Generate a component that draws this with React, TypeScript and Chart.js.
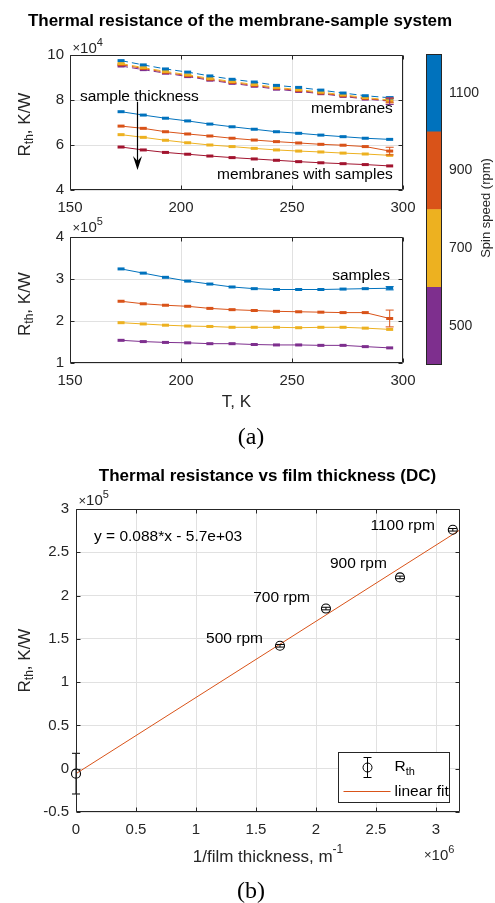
import React, { useEffect, useRef } from "react";
import { Chart, registerables } from "chart.js";

Chart.register(...registerables);

const W = 495;
const H = 903;
const SANS = "'Liberation Sans', Arial, Helvetica, sans-serif";
const SERIF = "'Liberation Serif', 'Times New Roman', serif";
const INK = "#262626";
const GRID = "#e1e1e1";
const BLUE = "#0072BD";
const ORANGE = "#D95319";
const YELLOW = "#EDB120";
const PURPLE = "#7E2F8E";
const CRIMSON = "#A2142F";

// ---------- (a) temperature sweeps, K and K/W ----------
const temperatureK = [173, 183, 193, 203, 213, 223, 233, 243, 253, 263, 273, 283, 294];
const temperatureTicks = [150, 200, 250, 300];

const membrane1100 = [97500, 95600, 93800, 92400, 90700, 89200, 88000, 86500, 85600, 84400, 83100, 81900, 81000];
const membrane700 = [96200, 94400, 92700, 91200, 89600, 88200, 86900, 85600, 84600, 83500, 82300, 81100, 80000];
const membrane900 = [95700, 94000, 92300, 90800, 89200, 87800, 86500, 85200, 84200, 83100, 81900, 80700, 79700];
const membrane500 = [95100, 93500, 91900, 90400, 88800, 87400, 86100, 84800, 83800, 82800, 81600, 80400, 79500];
const membraneEndErr = [400, 1000, 1000, 1500]; // 1100, 900, 700, 500 rpm
const membraneTicks = [40000, 60000, 80000, 100000];

const withSample1100 = [74800, 73300, 71900, 70700, 69300, 68100, 67000, 65900, 65200, 64400, 63700, 63000, 62500];
const withSample900 = [68400, 67400, 65900, 64900, 64000, 63000, 62200, 61500, 60900, 60300, 59900, 59300, 57300];
const withSample700 = [64600, 63400, 62100, 61000, 60000, 59300, 58500, 57800, 57300, 56900, 56400, 56000, 55400];
const withSample500 = [59100, 57800, 56700, 55900, 55100, 54400, 53800, 53200, 52600, 52100, 51700, 51300, 50700];
const withSampleEndErr = [0, 1700, 0, 0];

const sample1100 = [324000, 314000, 304000, 295000, 288000, 281000, 277000, 275000, 275000, 275000, 276000, 277000, 278000];
const sample900 = [247000, 241000, 237500, 235000, 230000, 227000, 225000, 223000, 222000, 221000, 220000, 220000, 206000];
const sample700 = [196000, 193000, 190000, 188000, 187000, 185000, 185000, 185000, 184000, 185000, 185000, 183000, 180000];
const sample500 = [154000, 151000, 149000, 148000, 146000, 146000, 144000, 143000, 143000, 142000, 142000, 139000, 136000];
const sampleEndErr = [4000, 20000, 0, 0];
const sampleTicks = [100000, 200000, 300000, 400000];

// colour bar
const spinSpeedsRpm = [500, 700, 900, 1100];
const colorbarEdges = [400, 600, 800, 1000, 1200];
const spinColors = [PURPLE, YELLOW, ORANGE, BLUE];

// ---------- (b) DC thermal resistance vs 1/thickness ----------
const inverseThickness = [0, 1.70e6, 2.083e6, 2.70e6, 3.14e6];
const rthDC = [-5700, 142000, 185000, 221000, 276000];
const rthErr = [23500, 1500, 1500, 1500, 1500];
const rpmLabels = ["", "500 rpm", "700 rpm", "900 rpm", "1100 rpm"];
const rpmLabelX = [0, 1.558e6, 1.95e6, 2.59e6, 2.99e6];
const rpmLabelY = [0, 150000, 197500, 237000, 281000];
const fitX = [0, 3.2e6];
const fitY = [-5700, 275900];
const inverseThicknessTicks = [0, 0.5e6, 1e6, 1.5e6, 2e6, 2.5e6, 3e6];
const rthTicks = [-50000, 0, 50000, 100000, 150000, 200000, 250000, 300000];

// ---------- drawing helpers ----------
type Run = { t: string; size: number; bold?: boolean; dy?: number; family?: string };

function runFont(r: Run) {
  return `${r.bold ? "bold " : ""}${r.size}px ${r.family || SANS}`;
}

function drawRuns(ctx: CanvasRenderingContext2D, runs: Run[], x: number, y: number, align: string, color: string) {
  ctx.save();
  ctx.fillStyle = color;
  ctx.textAlign = "left";
  ctx.textBaseline = "middle";
  const widths = runs.map((r) => {
    ctx.font = runFont(r);
    return ctx.measureText(r.t).width;
  });
  const total = widths.reduce((a, b) => a + b, 0);
  let cx = align === "center" ? x - total / 2 : align === "right" ? x - total : x;
  runs.forEach((r, i) => {
    ctx.font = runFont(r);
    ctx.fillText(r.t, cx, y + (r.dy || 0));
    cx += widths[i];
  });
  ctx.restore();
}

function drawRotated(ctx: CanvasRenderingContext2D, runs: Run[], x: number, y: number, color: string) {
  ctx.save();
  ctx.translate(x, y);
  ctx.rotate(-Math.PI / 2);
  drawRuns(ctx, runs, 0, 0, "center", color);
  ctx.restore();
}

function drawExponent(ctx: CanvasRenderingContext2D, exp: string, x: number, y: number) {
  drawRuns(
    ctx,
    [
      { t: "\u00d7", size: 13 },
      { t: "10", size: 15 },
      { t: exp, size: 11, dy: -6 },
    ],
    x,
    y,
    "left",
    INK
  );
}

const ylabelRuns: Run[] = [
  { t: "R", size: 17 },
  { t: "th", size: 12, dy: 5 },
  { t: ", K/W", size: 17 },
];

function fixedAxis(size: number, tickValues: number[]) {
  return {
    afterFit: (scale: any) => {
      if (scale.isHorizontal()) scale.height = size;
      else scale.width = size;
    },
    afterBuildTicks: (scale: any) => {
      scale.ticks = tickValues.map((v) => ({ value: v }));
    },
  };
}

const framePlugin = {
  id: "frame",
  afterDraw(chart: any) {
    const { ctx, chartArea: ca, scales } = chart;
    const L = Math.round(ca.left) + 0.5;
    const R = Math.round(ca.right) - 0.5;
    const T = Math.round(ca.top) + 0.5;
    const B = Math.round(ca.bottom) - 0.5;
    const tl = 4;
    ctx.save();
    ctx.strokeStyle = INK;
    ctx.lineWidth = 1;
    ctx.beginPath();
    ctx.rect(L, T, R - L, B - T);
    const xs = scales.x;
    const ys = scales.y;
    xs.ticks.forEach((t: any) => {
      const p = Math.round(xs.getPixelForValue(t.value)) + 0.5;
      ctx.moveTo(p, B);
      ctx.lineTo(p, B - tl);
      ctx.moveTo(p, T);
      ctx.lineTo(p, T + tl);
    });
    ys.ticks.forEach((t: any) => {
      const p = Math.round(ys.getPixelForValue(t.value)) + 0.5;
      ctx.moveTo(L, p);
      ctx.lineTo(L + tl, p);
      ctx.moveTo(R, p);
      ctx.lineTo(R - tl, p);
    });
    ctx.stroke();
    ctx.restore();
  },
};

const errorBarPlugin = {
  id: "errbars",
  afterDatasetsDraw(chart: any) {
    const { ctx } = chart;
    chart.data.datasets.forEach((ds: any, i: number) => {
      if (!ds.errors) return;
      const meta = chart.getDatasetMeta(i);
      const ys = chart.scales[meta.yAxisID];
      ctx.save();
      ctx.strokeStyle = ds.errColor || ds.borderColor;
      ctx.lineWidth = 1;
      meta.data.forEach((pt: any, j: number) => {
        const e = ds.errors[j];
        if (!e) return;
        const v = ds.data[j].y;
        const y1 = ys.getPixelForValue(v + e);
        const y2 = ys.getPixelForValue(v - e);
        const x = pt.x;
        const cap = 4;
        ctx.beginPath();
        ctx.moveTo(x, y1);
        ctx.lineTo(x, y2);
        ctx.moveTo(x - cap, y1);
        ctx.lineTo(x + cap, y1);
        ctx.moveTo(x - cap, y2);
        ctx.lineTo(x + cap, y2);
        ctx.stroke();
      });
      ctx.restore();
    });
  },
};

function tSeries(values: number[], color: string, dashed: boolean, endErr: number) {
  return {
    data: temperatureK.map((t, i) => ({ x: t, y: values[i] })),
    borderColor: color,
    borderWidth: 1,
    borderDash: dashed ? [7, 4] : [],
    pointStyle: "line",
    pointRadius: 3.5,
    pointBorderWidth: 3,
    pointBorderColor: color,
    pointBackgroundColor: color,
    tension: 0,
    errors: values.map((_, i) => (i === values.length - 1 ? endErr : 0)),
  };
}

function tickFont(size = 15) {
  return { family: SANS, size };
}

function baseOptions(
  padding: any,
  xRange: number[],
  xTicks: number[],
  xFmt: (v: number) => string,
  yRange: number[],
  yTicks: number[],
  yFmt: (v: number) => string,
  yWidth: number,
  xPad: number,
  yPad: number
) {
  return {
    responsive: false,
    animation: false,
    devicePixelRatio: 1,
    events: [],
    layout: { padding },
    plugins: { legend: { display: false }, tooltip: { enabled: false } },
    scales: {
      x: {
        type: "linear",
        min: xRange[0],
        max: xRange[1],
        ...fixedAxis(30, xTicks),
        grid: { color: GRID, drawTicks: false, lineWidth: 1 },
        border: { display: false },
        ticks: { font: tickFont(), color: INK, padding: xPad, maxRotation: 0, autoSkip: false, callback: xFmt },
      },
      y: {
        type: "linear",
        min: yRange[0],
        max: yRange[1],
        ...fixedAxis(yWidth, yTicks),
        grid: { color: GRID, drawTicks: false, lineWidth: 1 },
        border: { display: false },
        ticks: { font: tickFont(), color: INK, padding: yPad, autoSkip: false, callback: yFmt },
      },
    },
  };
}

function makeA1(canvas: HTMLCanvasElement) {
  const extra = {
    id: "extra",
    afterDraw(chart: any) {
      const { ctx, chartArea: ca, scales } = chart;
      const xs = scales.x;
      const ys = scales.y;
      drawRuns(ctx, [{ t: "Thermal resistance of the membrane-sample system", size: 17, bold: true }], 240, 21.5, "center", "#000");
      drawExponent(ctx, "4", ca.left + 2.5, ca.top - 6.5);
      drawRotated(ctx, ylabelRuns, 25, (ca.top + ca.bottom) / 2 + 2, INK);
      drawRuns(ctx, [{ t: "sample thickness", size: 15.5 }], xs.getPixelForValue(154.5), ys.getPixelForValue(81500), "left", "#000");
      drawRuns(ctx, [{ t: "membranes", size: 15.5 }], xs.getPixelForValue(295.4), ys.getPixelForValue(76000), "right", "#000");
      drawRuns(ctx, [{ t: "membranes with samples", size: 15.5 }], xs.getPixelForValue(295.4), ys.getPixelForValue(46700), "right", "#000");
      // arrow
      const ax = Math.round(xs.getPixelForValue(180)) + 0.5;
      const y0 = ys.getPixelForValue(79200);
      const y1 = ys.getPixelForValue(48900);
      ctx.save();
      ctx.strokeStyle = "#000";
      ctx.fillStyle = "#000";
      ctx.lineWidth = 1.2;
      ctx.beginPath();
      ctx.moveTo(ax, y0);
      ctx.lineTo(ax, y1 - 8);
      ctx.stroke();
      ctx.beginPath();
      ctx.moveTo(ax, y1);
      ctx.lineTo(ax - 4.5, y1 - 14);
      ctx.lineTo(ax, y1 - 9);
      ctx.lineTo(ax + 4.5, y1 - 14);
      ctx.closePath();
      ctx.fill();
      ctx.restore();
    },
  };
  return new Chart(canvas, {
    type: "line",
    data: {
      datasets: [
        tSeries(membrane1100, BLUE, true, membraneEndErr[0]),
        tSeries(membrane700, YELLOW, true, membraneEndErr[2]),
        tSeries(membrane900, ORANGE, true, membraneEndErr[1]),
        tSeries(membrane500, PURPLE, true, membraneEndErr[3]),
        tSeries(withSample1100, BLUE, false, withSampleEndErr[0]),
        tSeries(withSample900, ORANGE, false, withSampleEndErr[1]),
        tSeries(withSample700, YELLOW, false, withSampleEndErr[2]),
        tSeries(withSample500, CRIMSON, false, withSampleEndErr[3]),
      ] as any,
    },
    options: baseOptions(
      { left: 10, top: 55, right: 92, bottom: 683 },
      [150, 300],
      temperatureTicks,
      (v) => String(v),
      [40000, 100000],
      membraneTicks,
      (v) => String(v / 1e4),
      60,
      8.5,
      6
    ) as any,
    plugins: [framePlugin, errorBarPlugin, extra],
  });
}

function makeA2(canvas: HTMLCanvasElement) {
  const extra = {
    id: "extra",
    afterDraw(chart: any) {
      const { ctx, chartArea: ca, scales } = chart;
      drawExponent(ctx, "5", ca.left + 2.5, ca.top - 9);
      drawRotated(ctx, ylabelRuns, 25, (ca.top + ca.bottom) / 2 + 4, INK);
      drawRuns(ctx, [{ t: "samples", size: 15.5 }], scales.x.getPixelForValue(294.1), scales.y.getPixelForValue(307000), "right", "#000");
      drawRuns(ctx, [{ t: "T, K", size: 17 }], (ca.left + ca.right) / 2, ca.bottom + 39.5, "center", INK);
      drawRuns(ctx, [{ t: "(a)", size: 24, family: SERIF }], 251, 438, "center", "#000");
    },
  };
  return new Chart(canvas, {
    type: "line",
    data: {
      datasets: [
        tSeries(sample1100, BLUE, false, sampleEndErr[0]),
        tSeries(sample900, ORANGE, false, sampleEndErr[1]),
        tSeries(sample700, YELLOW, false, sampleEndErr[2]),
        tSeries(sample500, PURPLE, false, sampleEndErr[3]),
      ] as any,
    },
    options: baseOptions(
      { left: 10, top: 237, right: 92, bottom: 510 },
      [150, 300],
      temperatureTicks,
      (v) => String(v),
      [100000, 400000],
      sampleTicks,
      (v) => String(v / 1e5),
      60,
      8.5,
      6
    ) as any,
    plugins: [framePlugin, errorBarPlugin, extra],
  });
}

function makeColorbar(canvas: HTMLCanvasElement) {
  const extra = {
    id: "cbframe",
    afterDraw(chart: any) {
      const { ctx, chartArea: ca } = chart;
      ctx.save();
      ctx.strokeStyle = INK;
      ctx.lineWidth = 1;
      ctx.strokeRect(Math.round(ca.left) + 0.5, Math.round(ca.top) + 0.5, Math.round(ca.right - ca.left) - 1, Math.round(ca.bottom - ca.top) - 1);
      ctx.restore();
      drawRotated(ctx, [{ t: "Spin speed (rpm)", size: 13 }], 486, 208, INK);
    },
  };
  return new Chart(canvas, {
    type: "bar",
    data: {
      labels: ["speed"],
      datasets: spinSpeedsRpm.map((s, i) => ({
        label: String(s),
        data: [[colorbarEdges[i], colorbarEdges[i + 1]]],
        backgroundColor: spinColors[i],
        borderWidth: 0,
        grouped: false,
        barPercentage: 1,
        categoryPercentage: 1,
      })) as any,
    },
    options: {
      responsive: false,
      animation: false,
      devicePixelRatio: 1,
      events: [],
      layout: { padding: { left: 426, top: 54, right: 8, bottom: 538 } },
      plugins: { legend: { display: false }, tooltip: { enabled: false } },
      scales: {
        x: { display: false },
        y: {
          type: "linear",
          position: "right",
          min: colorbarEdges[0],
          max: colorbarEdges[colorbarEdges.length - 1],
          ...fixedAxis(45, spinSpeedsRpm),
          grid: { display: false, drawTicks: false },
          border: { display: false },
          ticks: { font: tickFont(14), color: INK, padding: 7, autoSkip: false, callback: (v: number) => String(v) },
        },
      },
    } as any,
    plugins: [extra],
  });
}

function makeB(canvas: HTMLCanvasElement) {
  const extra = {
    id: "extra",
    afterDraw(chart: any) {
      const { ctx, chartArea: ca, scales } = chart;
      const xs = scales.x;
      const ys = scales.y;
      drawRuns(ctx, [{ t: "Thermal resistance vs film thickness (DC)", size: 17, bold: true }], 267.5, 476.5, "center", "#000");
      drawExponent(ctx, "5", ca.left + 2.5, ca.top - 8);
      drawRotated(ctx, ylabelRuns, 25, (ca.top + ca.bottom) / 2, INK);
      drawRuns(
        ctx,
        [
          { t: "1/film thickness, m", size: 17 },
          { t: "-1", size: 12, dy: -7 },
        ],
        (ca.left + ca.right) / 2,
        ca.bottom + 45,
        "center",
        INK
      );
      drawExponent(ctx, "6", ca.right - 36, ca.bottom + 43.5);
      drawRuns(ctx, [{ t: "(b)", size: 24, family: SERIF }], 251, 892, "center", "#000");
      rpmLabels.forEach((lab, i) => {
        if (!lab) return;
        drawRuns(ctx, [{ t: lab, size: 15.5 }], xs.getPixelForValue(rpmLabelX[i]), ys.getPixelForValue(rpmLabelY[i]), "right", "#000");
      });
      drawRuns(ctx, [{ t: "y = 0.088*x - 5.7e+03", size: 15.5 }], xs.getPixelForValue(0.15e6), ys.getPixelForValue(268000), "left", "#000");
      // legend
      const lx = Math.round(ca.right - 122) + 0.5;
      const ly = Math.round(ca.bottom - 60) + 0.5;
      const lw = 111;
      const lh = 50;
      ctx.save();
      ctx.fillStyle = "#fff";
      ctx.fillRect(lx, ly, lw, lh);
      ctx.strokeStyle = INK;
      ctx.lineWidth = 1;
      ctx.strokeRect(lx, ly, lw, lh);
      const mx = lx + 29;
      const my = ly + 15;
      ctx.strokeStyle = "#000";
      ctx.beginPath();
      ctx.moveTo(mx, my - 10);
      ctx.lineTo(mx, my + 10);
      ctx.moveTo(mx - 4, my - 10);
      ctx.lineTo(mx + 4, my - 10);
      ctx.moveTo(mx - 4, my + 10);
      ctx.lineTo(mx + 4, my + 10);
      ctx.stroke();
      ctx.beginPath();
      ctx.arc(mx, my, 4.5, 0, Math.PI * 2);
      ctx.stroke();
      ctx.strokeStyle = ORANGE;
      ctx.beginPath();
      ctx.moveTo(lx + 5, ly + 39);
      ctx.lineTo(lx + 52, ly + 39);
      ctx.stroke();
      ctx.restore();
      drawRuns(
        ctx,
        [
          { t: "R", size: 15.5 },
          { t: "th", size: 11, dy: 5 },
        ],
        lx + 56,
        my - 1,
        "left",
        "#000"
      );
      drawRuns(ctx, [{ t: "linear fit", size: 15.5 }], lx + 56, ly + 39, "left", "#000");
    },
  };
  return new Chart(canvas, {
    type: "scatter",
    data: {
      datasets: [
        {
          data: inverseThickness.map((x, i) => ({ x, y: rthDC[i] })),
          pointStyle: "circle",
          pointRadius: 4.5,
          pointBorderWidth: 1.1,
          pointBorderColor: "#000",
          pointBackgroundColor: "rgba(0,0,0,0)",
          borderColor: "#000",
          showLine: false,
          clip: false,
          errors: rthErr,
          errColor: "#000",
        },
        {
          data: fitX.map((x, i) => ({ x, y: fitY[i] })),
          showLine: true,
          borderColor: ORANGE,
          borderWidth: 1,
          pointRadius: 0,
          clip: false,
        },
      ] as any,
    },
    options: baseOptions(
      { left: 10, top: 509, right: 35, bottom: 61 },
      [0, 3.2e6],
      inverseThicknessTicks,
      (v) => String(Math.round(v / 1e5) / 10),
      [-50000, 300000],
      rthTicks,
      (v) => String(Math.round(v / 1e4) / 10),
      66,
      9,
      7
    ) as any,
    plugins: [framePlugin, errorBarPlugin, extra],
  });
}

export default function App() {
  const r1 = useRef<HTMLCanvasElement>(null);
  const r2 = useRef<HTMLCanvasElement>(null);
  const r3 = useRef<HTMLCanvasElement>(null);
  const r4 = useRef<HTMLCanvasElement>(null);

  useEffect(() => {
    const charts = [
      makeA1(r1.current as HTMLCanvasElement),
      makeA2(r2.current as HTMLCanvasElement),
      makeColorbar(r3.current as HTMLCanvasElement),
      makeB(r4.current as HTMLCanvasElement),
    ];
    return () => charts.forEach((c) => c.destroy());
  }, []);

  const style: React.CSSProperties = { position: "absolute", left: 0, top: 0, width: W, height: H };
  return (
    <div style={{ position: "absolute", left: 0, top: 0, width: W, height: H, background: "#fff" }}>
      <canvas ref={r1} width={W} height={H} style={style} />
      <canvas ref={r2} width={W} height={H} style={style} />
      <canvas ref={r3} width={W} height={H} style={style} />
      <canvas ref={r4} width={W} height={H} style={style} />
    </div>
  );
}
